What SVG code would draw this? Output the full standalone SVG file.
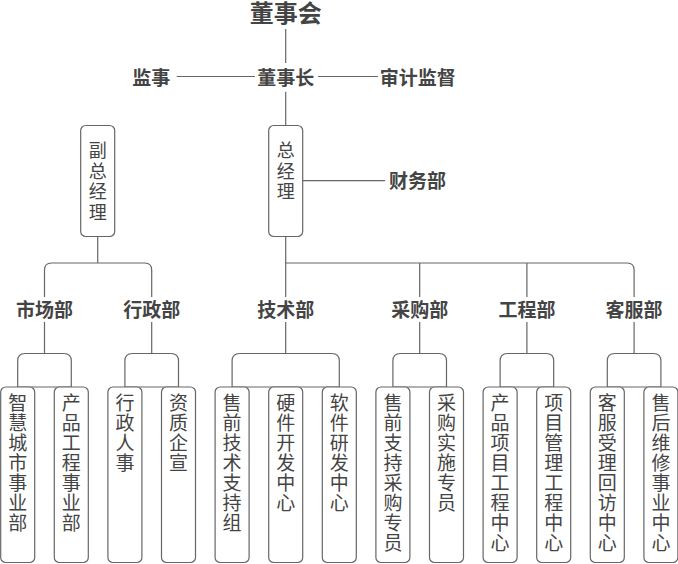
<svg xmlns="http://www.w3.org/2000/svg" width="678" height="564" viewBox="0 0 678 564">
<style>
.ln{fill:none;stroke:#666;stroke-width:1.2}
.bx{fill:#fff;stroke:#666;stroke-width:1.2}
.lb{font-family:"Noto Sans CJK SC","Noto Sans",sans-serif;font-weight:bold;fill:#444;font-size:19px;text-anchor:middle}
.vt{font-family:"Noto Sans CJK SC","Noto Sans",sans-serif;fill:#444;font-size:19px;text-anchor:middle}
.vs{font-family:"Noto Sans CJK SC","Noto Sans",sans-serif;fill:#444;font-size:18px;text-anchor:middle}
</style>
<rect width="678" height="564" fill="#fff"/>
<g id="connectors">
<path class="ln" d="M285.7,29V63"/>
<path class="ln" d="M176.7,76.5H255"/>
<path class="ln" d="M318,76.5H378"/>
<path class="ln" d="M285.7,91.7V125.5"/>
<path class="ln" d="M302.7,180.7H385"/>
<path class="ln" d="M97.7,236.5V263"/>
<path class="ln" d="M44.5,297V270Q44.5,263 51.5,263H144.7Q151.7,263 151.7,270V297"/>
<path class="ln" d="M285.7,236.5V297"/>
<path class="ln" d="M285.7,263H627.1Q634.1,263 634.1,270V297"/>
<path class="ln" d="M419.7,263V297"/>
<path class="ln" d="M526.9,263V297"/>
<path class="ln" d="M44.5,322V353.5M151.7,322V353.5M285.7,322V353.5M419.7,322V353.5M526.9,322V353.5M634.1,322V353.5"/>
<path class="ln" d="M17.7,387V361Q17.7,353.5 25.2,353.5H63.8Q71.3,353.5 71.3,361V387H17.7"/>
<path class="ln" d="M124.9,387V361Q124.9,353.5 132.4,353.5H171Q178.5,353.5 178.5,361V387H124.9"/>
<path class="ln" d="M232.1,387V361Q232.1,353.5 239.6,353.5H331.8Q339.3,353.5 339.3,361V387H232.1"/>
<path class="ln" d="M392.9,387V361Q392.9,353.5 400.4,353.5H439Q446.5,353.5 446.5,361V387H392.9"/>
<path class="ln" d="M500.1,387V361Q500.1,353.5 507.6,353.5H546.2Q553.7,353.5 553.7,361V387H500.1"/>
<path class="ln" d="M607.3,387V361Q607.3,353.5 614.8,353.5H653.4Q660.9,353.5 660.9,361V387H607.3"/>
</g>
<g id="board"><text class="lb" x="285.7" y="22" style="font-size:24px">董事会</text></g>
<g id="chairman"><text class="lb" x="285.7" y="84.5">董事长</text></g>
<g id="supervisor"><text class="lb" x="151.2" y="84.5">监事</text></g>
<g id="audit"><text class="lb" x="417.8" y="84.5">审计监督</text></g>
<g id="vgm"><rect class="bx" x="80.7" y="125.5" width="34" height="111" rx="5"/>
<text class="vs"><tspan x="97.7" y="157">副</tspan><tspan x="97.7" y="177.5">总</tspan><tspan x="97.7" y="198">经</tspan><tspan x="97.7" y="218.5">理</tspan></text></g>
<g id="gm"><rect class="bx" x="268.7" y="125.5" width="34" height="111" rx="5"/>
<text class="vs"><tspan x="285.7" y="157">总</tspan><tspan x="285.7" y="177.5">经</tspan><tspan x="285.7" y="198">理</tspan></text></g>
<g id="finance"><text class="lb" x="389" y="188" style="text-anchor:start">财务部</text></g>
<g id="market"><text class="lb" x="44.5" y="317">市场部</text></g>
<g id="admin"><text class="lb" x="151.7" y="317">行政部</text></g>
<g id="tech"><text class="lb" x="285.7" y="317">技术部</text></g>
<g id="purchase"><text class="lb" x="419.7" y="317">采购部</text></g>
<g id="engineering"><text class="lb" x="526.9" y="317">工程部</text></g>
<g id="service"><text class="lb" x="634.1" y="317">客服部</text></g>
<g id="leaf1"><rect class="bx" x="0.7" y="387" width="34" height="175.5" rx="5"/>
<text class="vt"><tspan x="17.7" y="410">智</tspan><tspan x="17.7" y="430">慧</tspan><tspan x="17.7" y="450">城</tspan><tspan x="17.7" y="470">市</tspan><tspan x="17.7" y="490">事</tspan><tspan x="17.7" y="510">业</tspan><tspan x="17.7" y="530">部</tspan></text></g>
<g id="leaf2"><rect class="bx" x="54.3" y="387" width="34" height="175.5" rx="5"/>
<text class="vt"><tspan x="71.3" y="410">产</tspan><tspan x="71.3" y="430">品</tspan><tspan x="71.3" y="450">工</tspan><tspan x="71.3" y="470">程</tspan><tspan x="71.3" y="490">事</tspan><tspan x="71.3" y="510">业</tspan><tspan x="71.3" y="530">部</tspan></text></g>
<g id="leaf3"><rect class="bx" x="107.9" y="387" width="34" height="175.5" rx="5"/>
<text class="vt"><tspan x="124.9" y="410">行</tspan><tspan x="124.9" y="430">政</tspan><tspan x="124.9" y="450">人</tspan><tspan x="124.9" y="470">事</tspan></text></g>
<g id="leaf4"><rect class="bx" x="161.5" y="387" width="34" height="175.5" rx="5"/>
<text class="vt"><tspan x="178.5" y="410">资</tspan><tspan x="178.5" y="430">质</tspan><tspan x="178.5" y="450">企</tspan><tspan x="178.5" y="470">宣</tspan></text></g>
<g id="leaf5"><rect class="bx" x="215.1" y="387" width="34" height="175.5" rx="5"/>
<text class="vt"><tspan x="232.1" y="410">售</tspan><tspan x="232.1" y="430">前</tspan><tspan x="232.1" y="450">技</tspan><tspan x="232.1" y="470">术</tspan><tspan x="232.1" y="490">支</tspan><tspan x="232.1" y="510">持</tspan><tspan x="232.1" y="530">组</tspan></text></g>
<g id="leaf6"><rect class="bx" x="268.7" y="387" width="34" height="175.5" rx="5"/>
<text class="vt"><tspan x="285.7" y="410">硬</tspan><tspan x="285.7" y="430">件</tspan><tspan x="285.7" y="450">开</tspan><tspan x="285.7" y="470">发</tspan><tspan x="285.7" y="490">中</tspan><tspan x="285.7" y="510">心</tspan></text></g>
<g id="leaf7"><rect class="bx" x="322.3" y="387" width="34" height="175.5" rx="5"/>
<text class="vt"><tspan x="339.3" y="410">软</tspan><tspan x="339.3" y="430">件</tspan><tspan x="339.3" y="450">研</tspan><tspan x="339.3" y="470">发</tspan><tspan x="339.3" y="490">中</tspan><tspan x="339.3" y="510">心</tspan></text></g>
<g id="leaf8"><rect class="bx" x="375.9" y="387" width="34" height="175.5" rx="5"/>
<text class="vt"><tspan x="392.9" y="410">售</tspan><tspan x="392.9" y="430">前</tspan><tspan x="392.9" y="450">支</tspan><tspan x="392.9" y="470">持</tspan><tspan x="392.9" y="490">采</tspan><tspan x="392.9" y="510">购</tspan><tspan x="392.9" y="530">专</tspan><tspan x="392.9" y="550">员</tspan></text></g>
<g id="leaf9"><rect class="bx" x="429.5" y="387" width="34" height="175.5" rx="5"/>
<text class="vt"><tspan x="446.5" y="410">采</tspan><tspan x="446.5" y="430">购</tspan><tspan x="446.5" y="450">实</tspan><tspan x="446.5" y="470">施</tspan><tspan x="446.5" y="490">专</tspan><tspan x="446.5" y="510">员</tspan></text></g>
<g id="leaf10"><rect class="bx" x="483.1" y="387" width="34" height="175.5" rx="5"/>
<text class="vt"><tspan x="500.1" y="410">产</tspan><tspan x="500.1" y="430">品</tspan><tspan x="500.1" y="450">项</tspan><tspan x="500.1" y="470">目</tspan><tspan x="500.1" y="490">工</tspan><tspan x="500.1" y="510">程</tspan><tspan x="500.1" y="530">中</tspan><tspan x="500.1" y="550">心</tspan></text></g>
<g id="leaf11"><rect class="bx" x="536.7" y="387" width="34" height="175.5" rx="5"/>
<text class="vt"><tspan x="553.7" y="410">项</tspan><tspan x="553.7" y="430">目</tspan><tspan x="553.7" y="450">管</tspan><tspan x="553.7" y="470">理</tspan><tspan x="553.7" y="490">工</tspan><tspan x="553.7" y="510">程</tspan><tspan x="553.7" y="530">中</tspan><tspan x="553.7" y="550">心</tspan></text></g>
<g id="leaf12"><rect class="bx" x="590.3" y="387" width="34" height="175.5" rx="5"/>
<text class="vt"><tspan x="607.3" y="410">客</tspan><tspan x="607.3" y="430">服</tspan><tspan x="607.3" y="450">受</tspan><tspan x="607.3" y="470">理</tspan><tspan x="607.3" y="490">回</tspan><tspan x="607.3" y="510">访</tspan><tspan x="607.3" y="530">中</tspan><tspan x="607.3" y="550">心</tspan></text></g>
<g id="leaf13"><rect class="bx" x="643.9" y="387" width="34" height="175.5" rx="5"/>
<text class="vt"><tspan x="660.9" y="410">售</tspan><tspan x="660.9" y="430">后</tspan><tspan x="660.9" y="450">维</tspan><tspan x="660.9" y="470">修</tspan><tspan x="660.9" y="490">事</tspan><tspan x="660.9" y="510">业</tspan><tspan x="660.9" y="530">中</tspan><tspan x="660.9" y="550">心</tspan></text></g>
</svg>
